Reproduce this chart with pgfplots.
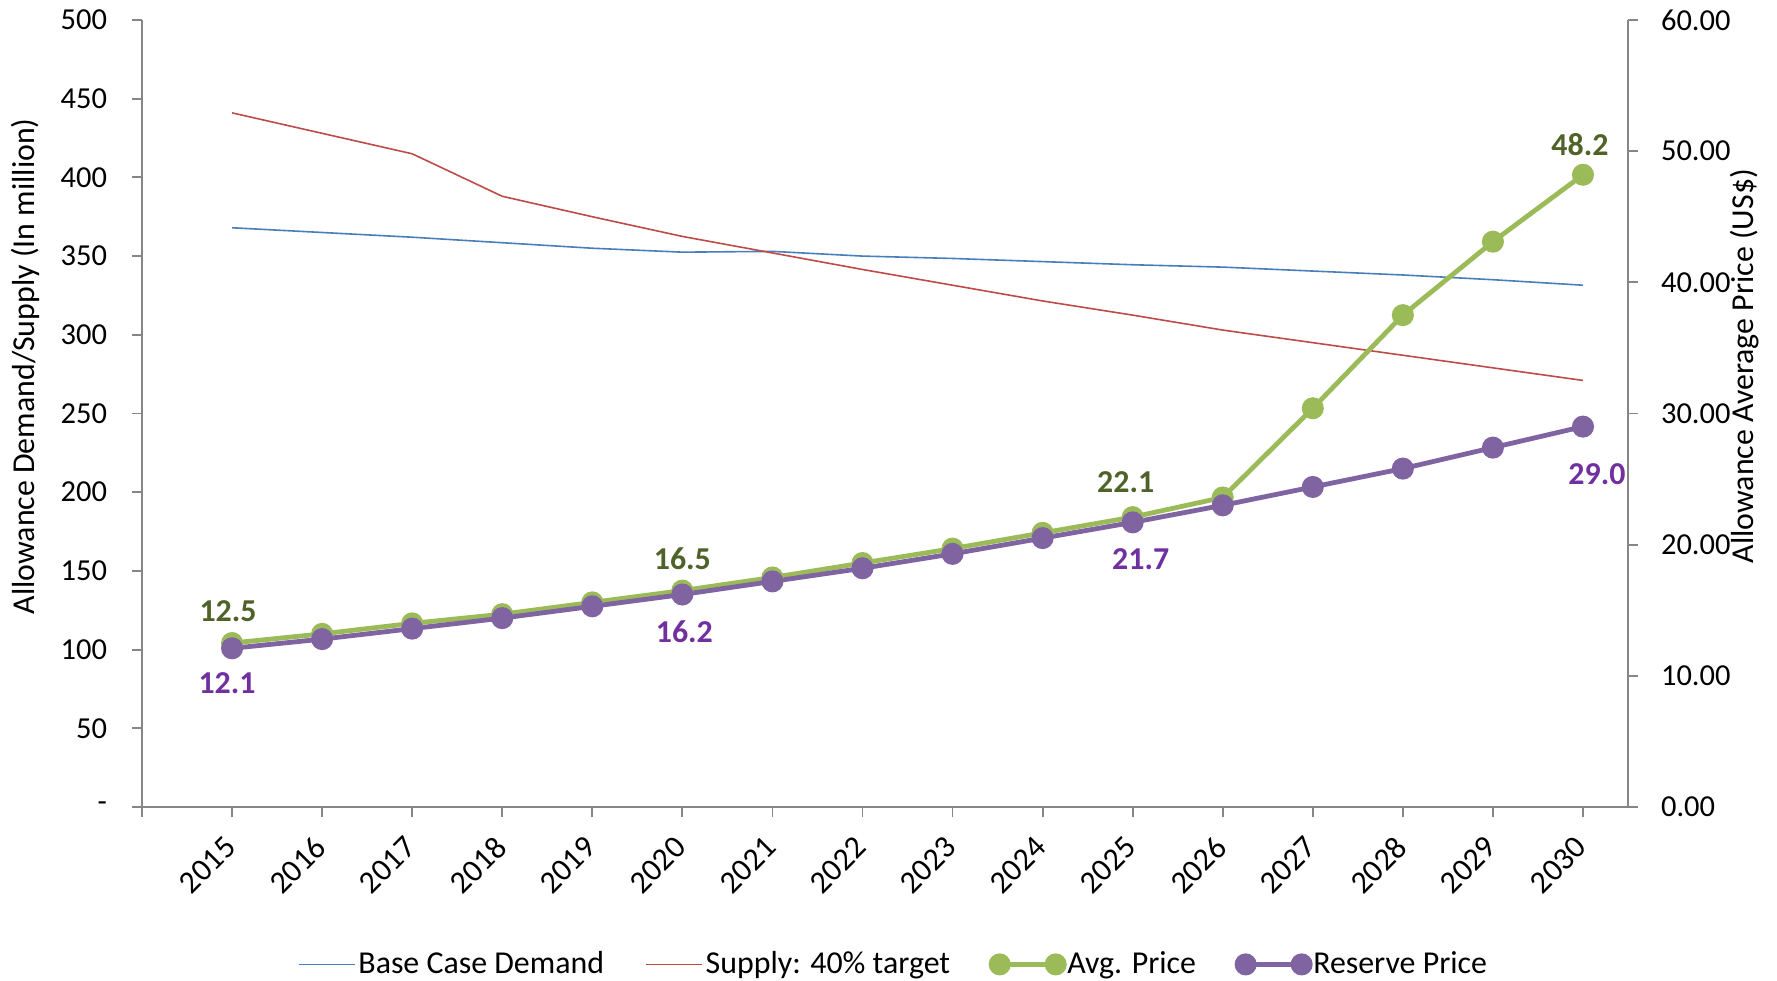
\documentclass[border=0pt]{standalone}
\usepackage{pgfplots}
\pgfplotsset{compat=1.18}
\usepackage{fontspec}
\setmainfont{Carlito}
\definecolor{cblue}{HTML}{4A7EBB}
\definecolor{cred}{HTML}{BE4B48}
\definecolor{cgreen}{HTML}{9BBB59}
\definecolor{cpurple}{HTML}{8064A2}
\definecolor{lgreen}{HTML}{4F6228}
\definecolor{lpurple}{HTML}{7030A0}
\definecolor{axgray}{HTML}{868686}
\newcommand{\fs}{\fontsize{15.3}{18}\selectfont}
\newcommand{\fl}{\fontsize{16}{19}\selectfont}
\pgfplotsset{
  every axis/.append style={
    scale only axis, width=743bp, height=393.5bp,
    xmin=2014, xmax=2030.5,
    axis line style={-, draw=axgray, line width=0.9bp},
    tick style={draw=axgray, line width=0.9bp},
    tick align=outside, major tick length=5bp,
    tick label style={font=\fs},
    label style={font=\fl},
  },
  thinline/.style={line width=0.8bp, no marks},
  thickline/.style={line width=2.4bp, mark=*, mark size=4.3bp},
  linelegend/.style={legend image code/.code={\draw[##1] (0bp,0bp) -- (28bp,0bp);}},
  marklegend/.style={legend image code/.code={\draw[mark repeat=2,mark phase=1,##1] plot coordinates {(0bp,0bp) (14bp,0bp) (28bp,0bp)};}},
}
\begin{document}
\begin{tikzpicture}
\useasboundingbox (-71bp,-87bp) rectangle (817.5bp,403.5bp);
\begin{axis}[
  axis x line*=bottom, axis y line*=left,
  ymin=0, ymax=500,
  ytick={0,50,...,500},
  yticklabels={-,50,100,150,200,250,300,350,400,450,500},
  yticklabel style={xshift=-9bp},
  xtick={2014,2015,...,2030},
  xticklabels={,2015,2016,2017,2018,2019,2020,2021,2022,2023,2024,2025,2026,2027,2028,2029,2030},
  xticklabel style={font=\fl, rotate=45, anchor=north east, xshift=-6bp, yshift=0.5bp},
  ylabel={Allowance Demand/Supply (In million)},
  ylabel style={at={(axis description cs:-0.0787,0.56)}, anchor=center},
]
\addplot[thinline, cblue] coordinates {
(2015,368) (2016,365) (2017,362) (2018,358.5) (2019,355) (2020,352.5)
(2021,353) (2022,350) (2023,348.5) (2024,346.5) (2025,344.5) (2026,343)
(2027,340.5) (2028,338) (2029,335) (2030,331.5)};
\addplot[thinline, cred] coordinates {
(2015,441) (2016,428) (2017,415) (2018,388) (2019,375) (2020,362.5)
(2021,352) (2022,341.5) (2023,331.5) (2024,321.5) (2025,312.5) (2026,303)
(2027,295) (2028,287) (2029,279) (2030,271)};
\end{axis}
\begin{axis}[
  axis x line=none, axis y line*=right,
  ymin=0, ymax=60,
  ytick={0,10,...,60},
  /pgf/number format/fixed, /pgf/number format/fixed zerofill,
  /pgf/number format/precision=2, /pgf/number format/assume math mode=true,
  yticklabel style={xshift=8bp},
  ylabel={Allowance Average Price (US\$)},
  ylabel style={at={(axis description cs:1.0787,0.56)}, anchor=center},
  legend columns=4,
  legend style={draw=none, fill=none, font=\fl, at={(0.506,-0.2)}, anchor=center,
    /tikz/every even column/.append style={column sep=19bp},
    nodes={inner sep=1.5bp}},
  linelegend,
]
\addlegendimage{thinline, cblue}
\addlegendentry{Base Case Demand}
\addlegendimage{thinline, cred}
\addlegendentry{Supply: 40\% target}
\addplot[thickline, cgreen, marklegend] coordinates {
(2015,12.5) (2016,13.2) (2017,14.0) (2018,14.7) (2019,15.6) (2020,16.5)
(2021,17.5) (2022,18.6) (2023,19.7) (2024,20.9) (2025,22.1) (2026,23.6)
(2027,30.4) (2028,37.5) (2029,43.1) (2030,48.2)};
\addlegendentry{Avg. Price}
\addplot[thickline, cpurple, marklegend] coordinates {
(2015,12.1) (2016,12.8) (2017,13.6) (2018,14.4) (2019,15.3) (2020,16.2)
(2021,17.2) (2022,18.2) (2023,19.3) (2024,20.5) (2025,21.7) (2026,23.0)
(2027,24.4) (2028,25.8) (2029,27.4) (2030,29.0)};
\addlegendentry{Reserve Price}
\begin{scope}[every node/.style={font=\fl\bfseries, inner sep=0pt}]
\node[lgreen] at (axis cs:2015,12.5) [yshift=16bp, xshift=-2bp] {12.5};
\node[lgreen] at (axis cs:2020,16.5) [yshift=16bp] {16.5};
\node[lgreen] at (axis cs:2025,22.1) [yshift=17.5bp, xshift=-3.5bp] {22.1};
\node[lgreen] at (axis cs:2030,48.2) [yshift=15bp, xshift=-1.5bp] {48.2};
\node[lpurple] at (axis cs:2015,12.1) [yshift=-17.5bp, xshift=-2.5bp] {12.1};
\node[lpurple] at (axis cs:2020,16.2) [yshift=-18.5bp, xshift=1bp] {16.2};
\node[lpurple] at (axis cs:2025,21.7) [yshift=-18.5bp, xshift=4bp] {21.7};
\node[lpurple] at (axis cs:2030,29.0) [yshift=-24bp, xshift=7bp] {29.0};
\end{scope}
\end{axis}
\end{tikzpicture}
\end{document}
